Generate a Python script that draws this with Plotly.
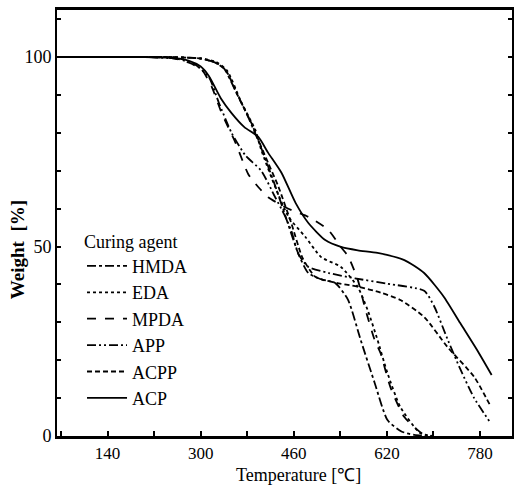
import plotly.graph_objects as go

# ---- data ----
hmda_x = [60, 240, 300, 325, 340, 360, 382, 404, 428, 450, 468, 485, 510, 531, 553, 575, 599, 621, 645, 667, 690]
hmda_y = [100, 100, 99.6, 98.5, 97, 91, 84, 76, 66, 56, 48, 43, 41.2, 40.4, 36, 25.3, 14, 4.2, 1.2, 0.3, 0]

eda_x = [60, 240, 300, 325, 345, 370, 394, 404, 428, 451, 480, 507, 541, 570, 587, 604, 621, 643, 677, 700]
eda_y = [100, 100, 99.6, 98.8, 96.5, 88, 80.7, 75.5, 65.7, 57.8, 52.5, 47.2, 44.6, 39.3, 33.2, 25.3, 16.6, 7.7, 0.8, 0]

mpda_x = [60, 200, 250, 280, 302, 319, 336, 360, 382, 400, 416, 440, 456, 485, 519, 540, 553, 570, 582, 599, 609, 626, 650, 684, 700]
mpda_y = [100, 100, 99.7, 98.5, 96.6, 92.1, 85.2, 77.3, 69, 65.5, 63, 60.8, 59.6, 57.8, 54.4, 50, 47.5, 41.2, 34, 25.3, 21.9, 12.9, 5, 0.3, 0]

app_x = [60, 200, 260, 290, 314, 331, 353, 377, 404, 428, 445, 456, 468, 485, 520, 565, 620, 684, 701, 724, 746, 770, 797]
app_y = [100, 100, 99.5, 98, 94.7, 88, 80, 74, 70, 63, 58, 54, 48, 44.6, 43, 41.6, 40.2, 38.3, 34.3, 25.6, 17.7, 10, 3.7]

acpp_x = [60, 240, 300, 325, 343, 365, 387, 404, 416, 433, 456, 475, 497, 530, 570, 610, 643, 684, 724, 770, 797]
acpp_y = [100, 100, 99.6, 98.5, 96.5, 89.4, 82.6, 76.3, 72, 66, 56, 47, 42, 40.5, 39.4, 37.8, 35.9, 31.4, 23.5, 15.6, 8.2]

acp_x = [60, 200, 250, 280, 300, 314, 335, 353, 375, 399, 416, 439, 463, 485, 514, 541, 570, 604, 650, 684, 718, 746, 775, 800]
acp_y = [100, 100, 99.8, 99, 97.5, 95, 89, 85.2, 81.5, 78.9, 74.7, 69.4, 61.5, 56.2, 51.7, 49.9, 49, 48.3, 46.4, 43, 36.7, 29.8, 22.7, 16.1]

x_tick_vals = [140, 300, 460, 620, 780]
y_tick_vals = [0, 50, 100]

series = [
    ("HMDA", hmda_x, hmda_y, "dashdot"),
    ("EDA", eda_x, eda_y, "dot"),
    ("MPDA", mpda_x, mpda_y, "dash"),
    ("APP", app_x, app_y, "9px,3px,2px,3px,2px,3px"),
    ("ACPP", acpp_x, acpp_y, "5px,3px"),
    ("ACP", acp_x, acp_y, "solid"),
]

FONT = "Liberation Serif"

fig = go.Figure()
for name, xs, ys, dash in series:
    fig.add_trace(go.Scatter(
        x=xs, y=ys, mode="lines", name=name,
        line=dict(color="black", width=1.8, dash=dash, shape="spline", smoothing=0.6),
    ))

fig.update_layout(
    width=515, height=489,
    margin=dict(l=57, r=1, t=10, b=53),
    paper_bgcolor="white", plot_bgcolor="white",
    font=dict(family=FONT, color="black", size=17),
    showlegend=True,
    legend=dict(
        x=0.055, y=0.497, xanchor="left", yanchor="top",
        bgcolor="rgba(0,0,0,0)",
        title=dict(text="Curing agent", font=dict(family=FONT, size=18)),
        font=dict(family=FONT, size=18),
        itemwidth=40, tracegroupgap=0,
    ),
    xaxis=dict(
        range=[53, 835], tickvals=x_tick_vals,
        ticks="inside", ticklen=5, tickwidth=1.5, tickcolor="black",
        minor=dict(ticks="inside", tick0=60, dtick=80, ticklen=5, tickcolor="black"),
        showgrid=False, zeroline=False,
        showline=True, linecolor="black", linewidth=2.5, mirror=True,
        tickfont=dict(family=FONT, size=17),
    ),
    yaxis=dict(
        range=[0, 112.4], tickvals=y_tick_vals,
        ticks="inside", ticklen=4, tickwidth=1.5, tickcolor="black",
        minor=dict(ticks="inside", dtick=10, ticklen=4, tickcolor="black"),
        showgrid=False, zeroline=False,
        showline=True, linecolor="black", linewidth=2, mirror="allticks",
        tickfont=dict(family=FONT, size=18),
    ),
    annotations=[
        dict(text="<b>Weight  [%]</b>", xref="paper", yref="paper",
             x=-0.085, y=0.437, xanchor="center", yanchor="middle",
             textangle=-90, showarrow=False, font=dict(family=FONT, size=19)),
        dict(text="Temperature [℃]", xref="paper", yref="paper",
             x=0.531, y=-0.092, xanchor="center", yanchor="middle",
             showarrow=False, font=dict(family=FONT, size=18)),
    ],
)

fig.write_html("out.html")
